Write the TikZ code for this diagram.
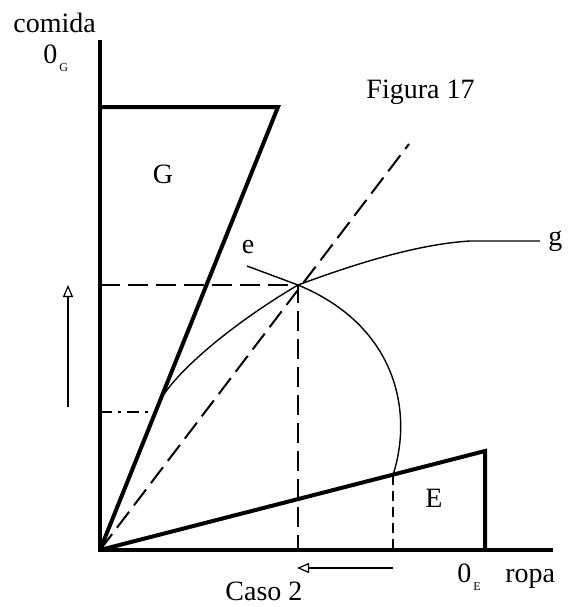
\documentclass[tikz,border=0pt]{standalone}
\usepackage{fontspec}
\setmainfont{Liberation Serif}
\usetikzlibrary{arrows.meta}

\newcommand{\subfont}[1]{\hspace{1pt}\raisebox{-4pt}{\fontsize{6}{7}\selectfont #1}}

\begin{document}
\begin{tikzpicture}[x=0.5pt,y=-0.5pt,
  box/.style={line width=2pt},
  curve/.style={line width=0.7pt},
  guide/.style={line width=1pt,dash pattern=on 10pt off 4pt},
  shortguide/.style={line width=0.9pt,dash pattern=on 5pt off 3pt},
  move/.style={line width=0.6pt,-{Triangle[open,length=6pt,width=5pt]}},
  lbl/.style={font=\fontsize{14}{16}\selectfont,inner sep=0pt}]
  \useasboundingbox (0,0) rectangle (569,607);
  % case 2: the two boxes, the curves e and g and their crossing point
  \coordinate (O) at (100,550);
  \coordinate (yTop) at (100,40);
  \coordinate (xEnd) at (553,550);
  \coordinate (Gtl) at (100,107);
  \coordinate (Gtr) at (278,107);
  \coordinate (Etr) at (485,451);
  \coordinate (Ebr) at (485,550);
  \coordinate (rayEnd) at (409,144);
  \coordinate (P) at (298,285);
  \coordinate (Py) at (100,285);
  \coordinate (Px) at (298,550);
  \coordinate (Q) at (393,475);
  \coordinate (Qx) at (393,550);
  \coordinate (Ry) at (100,412);
  \coordinate (Rg) at (154,412);
  \coordinate (gOff) at (159,403);
  \coordinate (eStart) at (247,266);
  \coordinate (gEnd) at (540,241);
  \coordinate (upA) at (68,407);
  \coordinate (upB) at (68,285);
  \coordinate (leftA) at (393,568);
  \coordinate (leftB) at (297,568);

  \draw[box] (yTop) -- (O) -- (xEnd);
  \draw[box] (Gtl) -- (Gtr) -- (O);
  \draw[box] (O) -- (Etr) -- (Ebr);
  \draw[guide] (O) -- (rayEnd);
  \draw[guide] (Py) -- (P) -- (Px);
  \draw[shortguide] (Q) -- (Qx);
  \draw[line width=0.9pt,dash pattern=on 6pt off 3pt on 1.5pt off 3pt] (Ry) -- (Rg);
  \draw[curve] (O) -- (gOff) .. controls (172,375) and (230,325) .. (P)
    .. controls (360,262) and (420,244) .. (470,241) -- (gEnd);
  \draw[curve] (eStart) -- (P) .. controls (395,325) and (414,410) .. (Q);
  \draw[move] (upA) -- (upB);
  \draw[move] (leftA) -- (leftB);

  \node[lbl,anchor=base west] (comida) at (13,32) {comida};
  \node[lbl,anchor=base west] (zeroG) at (43,63) {0\subfont{G}};
  \node[lbl,anchor=base east] (fig) at (475,98) {Figura 17};
  \node[lbl] (labG) at (163,174) {G};
  \node[lbl] (labE) at (434,498) {E};
  \node[lbl,anchor=base] (labe) at (248,253) {e};
  \node[lbl,anchor=mid west] (labg) at (548,241) {g};
  \node[lbl,anchor=base west] (zeroE) at (457,582) {0\subfont{E}};
  \node[lbl,anchor=base west] (ropa) at (505,582) {ropa};
  \node[lbl,anchor=base west] (caso) at (225,600) {Caso 2};
\end{tikzpicture}
\end{document}
